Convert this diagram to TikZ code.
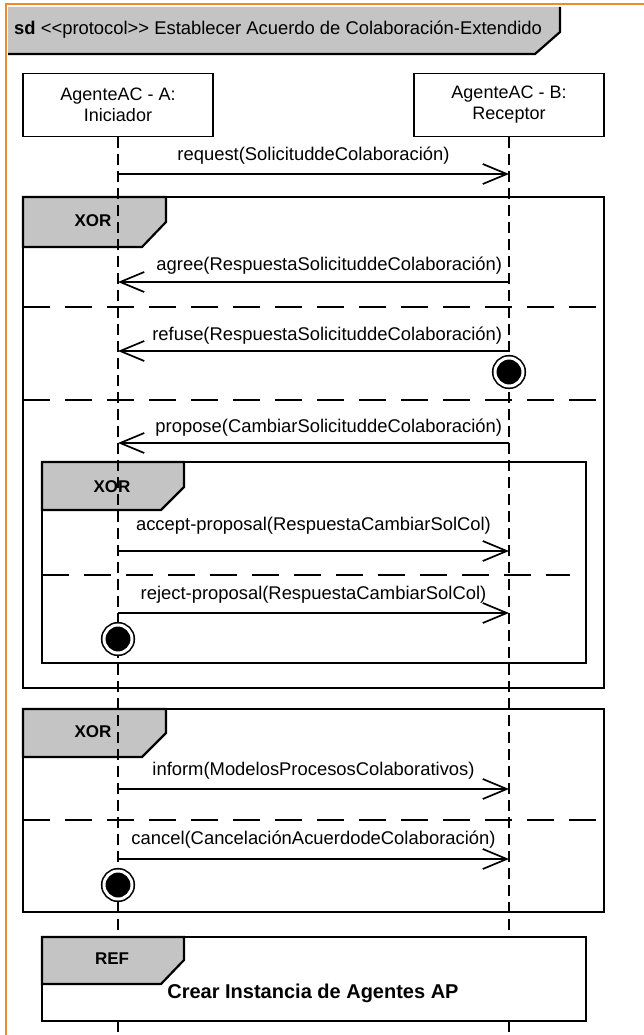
\documentclass[tikz,border=0pt]{standalone}
\usepackage{fontspec}
\setmainfont{Liberation Sans}
\usepackage{tikz}
\definecolor{sdorange}{HTML}{EE8A2E}
\definecolor{tabgrey}{HTML}{C4C4C4}
\usetikzlibrary{arrows.meta,positioning}

\begin{document}
\begin{tikzpicture}[x=1pt,y=-1pt,
  head/.style={draw,line width=1.6pt,fill=white,minimum width=190pt,minimum height=63pt,
               inner sep=0pt,align=center,font=\fontsize{18}{21}\selectfont},
  frm/.style={draw,line width=2.6pt},
  tab/.style={draw,fill=tabgrey,line width=2.2pt,line join=miter},
  sep/.style={line width=1.6pt,dash pattern=on 27pt off 15pt},
  life/.style={line width=1.5pt,dash pattern=on 11pt off 6pt},
  msg/.style={-{Straight Barb[length=24pt,width=20pt]},line width=1.7pt},
  lbl/.style={font=\fontsize{18.4}{21}\selectfont,inner sep=2pt},
  opname/.style={font=\bfseries\fontsize{17}{20}\selectfont,inner sep=0pt},
  term/.style={circle,inner sep=0pt,minimum size=28pt,fill=black,draw=black,
               line width=1.6pt,double=white,double distance=3pt}]
\useasboundingbox (0,0) rectangle (644,1035);
\fill[white] (0,0) rectangle (644,1035);

% sd frame
\draw[sdorange,line width=2.5pt] (6,1035) -- (6,4) -- (644,4);
\fill[tabgrey] (8,7) -- (560,7) -- (560,32) -- (535,54) -- (8,54) -- cycle;
\draw[line width=2.2pt] (560,7) -- (560,32) -- (535,54) -- (8,54);
\node[anchor=west,inner sep=0pt,font=\fontsize{18.4}{21}\selectfont] (title) at (14,30)
  {\textbf{sd} <{}<protocol>{}> Establecer Acuerdo de Colaboración-Extendido};

% lifeline heads
\node[head] (agA) at (118,105) {AgenteAC - A:\\Iniciador};
\node[head] (agB) at (509,105) {AgenteAC - B:\\Receptor};
\coordinate (floor) at (0,1035);

% combined fragments
\draw[frm] (23,197) rectangle (604,688);
\draw[tab] (23,197) -- (166,197) -- (166,222) -- (142,247) -- (23,247) -- cycle;
\node[opname] (xorOne) at (93,221) {XOR};
\draw[sep] (23,307) -- (604,307);
\draw[sep] (23,400) -- (604,400);

\draw[frm] (42,462) rectangle (586,663);
\draw[tab] (42,462) -- (184,462) -- (184,487) -- (161,510) -- (42,510) -- cycle;
\node[opname] (xorTwo) at (112,487) {XOR};
\draw[sep] (42,575) -- (570,575);

\draw[frm] (23,709) rectangle (604,912);
\draw[tab] (23,709) -- (166,709) -- (166,733) -- (142,757) -- (23,757) -- cycle;
\node[opname] (xorThree) at (93,732) {XOR};
\draw[sep] (23,820) -- (604,820);

% lifelines
\draw[life] (agA.south) -- (agA.south |- floor);
\draw[life] (agB.south) -- (agB.south |- floor);

% interaction use
\draw[frm,fill=white] (42,937) rectangle (586,1021);
\draw[tab] (42,937) -- (184,937) -- (184,960) -- (161,984) -- (42,984) -- cycle;
\node[opname] (refTag) at (112,959) {REF};
\node[font=\bfseries\fontsize{20}{24}\selectfont] (refBody) at (313,993)
  {Crear Instancia de Agentes AP};

% messages
\coordinate (reqA) at (118,174);   \coordinate (reqB) at (509,174);
\coordinate (agrA) at (118,282);   \coordinate (agrB) at (509,282);
\coordinate (refA) at (118,351);   \coordinate (refB) at (509,351);
\coordinate (proA) at (118,443);   \coordinate (proB) at (509,443);
\coordinate (accA) at (118,551);   \coordinate (accB) at (509,551);
\coordinate (rejA) at (118,613);   \coordinate (rejB) at (509,613);
\coordinate (infA) at (118,789);   \coordinate (infB) at (509,789);
\coordinate (canA) at (118,859);   \coordinate (canB) at (509,859);

\draw[msg] (reqA) -- node[lbl,above=7pt]{request(SolicituddeColaboración)} (reqB);
\draw[msg] (agrB) -- node[lbl,pos=0,anchor=south east,xshift=-4pt,yshift=5pt]
  {agree(RespuestaSolicituddeColaboración)} (agrA);
\draw[msg] (refB) -- node[lbl,pos=0,anchor=south east,xshift=-4pt,yshift=4pt]
  {refuse(RespuestaSolicituddeColaboración)} (refA);
\draw[msg] (proB) -- node[lbl,pos=0,anchor=south east,xshift=-4pt,yshift=4pt]
  {propose(CambiarSolicituddeColaboración)} (proA);
\draw[msg] (accA) -- node[lbl,above=14pt]{accept-proposal(RespuestaCambiarSolCol)} (accB);
\draw[msg] (rejA) -- node[lbl,above=7pt]{reject-proposal(RespuestaCambiarSolCol)} (rejB);
\draw[msg] (infA) -- node[lbl,above=7pt]{inform(ModelosProcesosColaborativos)} (infB);
\draw[msg] (canA) -- node[lbl,above=8pt]{cancel(CancelaciónAcuerdodeColaboración)} (canB);

% stops
\node[term] (endRefuse) at (509,372) {};
\node[term] (endReject) at (118,639) {};
\node[term] (endCancel) at (118,885) {};
\end{tikzpicture}
\end{document}
